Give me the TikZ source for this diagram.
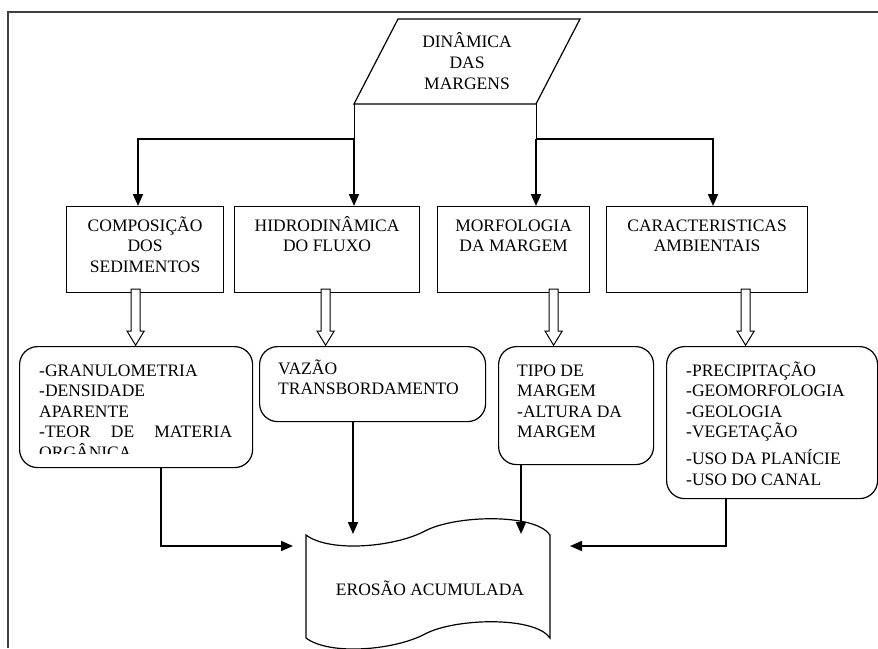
\documentclass[tikz,border=0pt]{standalone}
\usepackage{fontspec}
\setmainfont{Liberation Serif}
\usetikzlibrary{arrows.meta,calc}
% strut that fixes the top of the first line of a text block
\newcommand\capstrut{\rule{0pt}{16pt}}
\begin{document}
\begin{tikzpicture}[x=1pt,y=-1pt,
  every node/.style={inner sep=0pt, font=\fontsize{17.5}{20.5}\selectfont},
  box/.style={draw, line width=1.2pt},
  rbox/.style={draw, line width=1.2pt, rounded corners=18pt},
  title/.style={align=center, anchor=north},
  list/.style={align=left, anchor=north west},
  thinline/.style={line width=1pt},
  conn/.style={line width=1.8pt},
  tip/.style={-{Triangle[length=12pt,width=10pt]}},
  hollow arrow/.pic={
    \draw[line width=1pt, fill=white] (-4.5,0) -- (-4.5,42) -- (-8.5,42) -- (0,56)
      -- (8.5,42) -- (4.5,42) -- (4.5,0) -- cycle;}
]
\useasboundingbox (0,0) rectangle (878,648);

% page frame: only its top and left sides fall inside the picture
\draw[line width=2.2pt, black!75] (8,648) -- (8,12) -- (878,12);

% top parallelogram
\coordinate (ptl) at (398,19);
\coordinate (ptr) at (580,19);
\coordinate (pbr) at (536,104);
\coordinate (pbl) at (354,104);
\draw[line width=1.2pt] (ptl) -- (ptr) -- (pbr) -- (pbl) -- cycle;
\node[title, font=\fontsize{17.5}{21}\selectfont] (dm) at (467,31)
  {\capstrut DINÂMICA\\DAS\\MARGENS};

% second row
\node[box, minimum width=157pt, minimum height=86pt, anchor=north west] (b1) at (66,206) {};
\node[box, minimum width=185pt, minimum height=86pt, anchor=north west] (b2) at (234,206) {};
\node[box, minimum width=152pt, minimum height=86pt, anchor=north west] (b3) at (437,206) {};
\node[box, minimum width=201pt, minimum height=86pt, anchor=north west] (b4) at (606,206) {};
\node[title] (b1t) at ([yshift=-9pt]b1.north) {\capstrut COMPOSIÇÃO\\DOS\\SEDIMENTOS};
\node[title] (b2t) at ([yshift=-9pt]b2.north) {\capstrut HIDRODINÂMICA\\DO FLUXO};
\node[title] (b3t) at ([yshift=-9pt]b3.north) {\capstrut MORFOLOGIA\\DA MARGEM};
\node[title] (b4t) at ([yshift=-9pt]b4.north) {\capstrut CARACTERISTICAS\\AMBIENTAIS};

% branching connectors
\coordinate (jl) at (354,139);
\coordinate (jr) at (536,139);
\coordinate (kl) at (138,139);
\coordinate (kr) at (713,139);
\draw[thinline] (pbl) -- (jl);
\draw[thinline] (pbr) -- (jr);
\draw[conn, tip] (jl) -- (jl |- b2.north);
\draw[conn, tip] (jl) -- (kl) -- (kl |- b1.north);
\draw[conn, tip] (jr) -- (jr |- b3.north);
\draw[conn, tip] (jr) -- (kr) -- (kr |- b4.north);

% third row
\node[rbox, minimum width=233pt, minimum height=121pt, anchor=north west] (r1) at (19,346) {};
\node[rbox, minimum width=226pt, minimum height=75pt, anchor=north west] (r2) at (259,346) {};
\node[rbox, minimum width=155pt, minimum height=118pt, anchor=north west] (r3) at (498,346) {};
\node[rbox, minimum width=211pt, minimum height=152pt, anchor=north west] (r4) at (666,346) {};

% hollow arrows between the rows
\pic (h1) at ([xshift=-9.5pt,yshift=4pt]b1.south) {hollow arrow};
\pic (h2) at ([xshift=-1.5pt,yshift=4pt]b2.south) {hollow arrow};
\pic (h3) at ([xshift=40pt,yshift=4pt]b3.south) {hollow arrow};
\pic (h4) at ([xshift=38.5pt,yshift=4pt]b4.south) {hollow arrow};

\begin{scope}
  \clip (19,346) rectangle (252,453);
  \node[list] (r1t) at (39,360)
    {\capstrut-GRANULOMETRIA\\-DENSIDADE\\APARENTE\\\makebox[193pt][s]{-TEOR DE MATERIA}\\ORGÂNICA};
\end{scope}
\node[list] (r2t) at (278,358) {\capstrut VAZÃO\\TRANSBORDAMENTO};
\node[list] (r3t) at (517,360) {\capstrut TIPO DE\\MARGEM\\-ALTURA DA\\MARGEM};
\node[list] (r4t) at (686,360)
  {\capstrut-PRECIPITAÇÃO\\-GEOMORFOLOGIA\\-GEOLOGIA\\-VEGETAÇÃO\\[6.5pt]-USO DA PLANÍCIE\\-USO DO CANAL};

% document shape
\draw[line width=1.2pt]
  (306,535) .. controls (330,553) and (395,547) .. (425,531)
  .. controls (455,515) and (535,513) .. (550,535) -- (550,638)
  .. controls (535,616) and (455,618) .. (425,634)
  .. controls (395,650) and (330,656) .. (306,638) -- cycle;
\node (doc) at (430,588) {EROSÃO ACUMULADA};

% connectors into the document
\coordinate (c1) at (161,546);
\coordinate (dl) at (293,546);
\coordinate (d2) at (353,534);
\coordinate (d3) at (521,534);
\coordinate (c4) at (726,546);
\coordinate (dr) at (570,546);
\draw[conn, tip] (r1.south -| c1) -- (c1) -- (dl);
\draw[conn, tip] (r2.south -| d2) -- (d2);
\draw[conn, tip] (r3.south -| d3) -- (d3);
\draw[conn, tip] (r4.south -| c4) -- (c4) -- (dr);
\end{tikzpicture}
\end{document}
